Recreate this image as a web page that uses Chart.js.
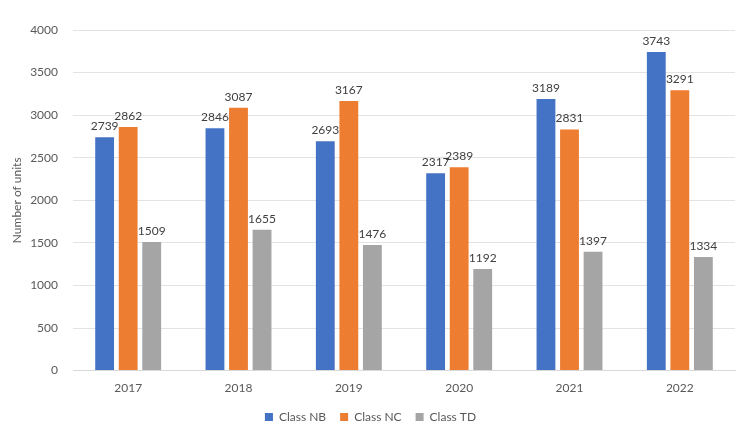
<!DOCTYPE html>
<html>
<head>
<meta charset="utf-8">
<script src="https://cdn.jsdelivr.net/npm/chart.js@4"></script>
<style>
  html, body { margin: 0; padding: 0; background: #fff; }
  #wrap { width: 743px; height: 439px; }
</style>
</head>
<body>
<div id="wrap"><canvas id="myChart" width="743" height="439"></canvas></div>
<script>
const years = ['2017', '2018', '2019', '2020', '2021', '2022'];
const classNB = [2739, 2846, 2693, 2317, 3189, 3743];
const classNC = [2862, 3087, 3167, 2389, 2831, 3291];
const classTD = [1509, 1655, 1476, 1192, 1397, 1334];
const yTicks = [0, 500, 1000, 1500, 2000, 2500, 3000, 3500, 4000];

const fontFamily = "Lato, 'Open Sans', sans-serif";

// draw the value above each bar
const valueLabels = {
  id: 'valueLabels',
  afterDatasetsDraw(chart) {
    const ctx = chart.ctx;
    ctx.save();
    ctx.font = '12px ' + fontFamily;
    ctx.fillStyle = '#404040';
    ctx.textAlign = 'center';
    ctx.textBaseline = 'bottom';
    chart.data.datasets.forEach((ds, i) => {
      chart.getDatasetMeta(i).data.forEach((bar, j) => {
        ctx.fillText(ds.data[j], bar.x, bar.y - 5);
      });
    });
    ctx.restore();
  }
};

const data = {
  labels: years,
  datasets: [
    { label: 'Class NB', data: classNB, backgroundColor: '#4472C4' },
    { label: 'Class NC', data: classNC, backgroundColor: '#ED7D31' },
    { label: 'Class TD', data: classTD, backgroundColor: '#A5A5A5' }
  ]
};

const config = {
  type: 'bar',
  data: data,
  plugins: [valueLabels],
  options: {
    responsive: false,
    animation: false,
    layout: { padding: { top: 30, right: 8, left: 6, bottom: 6 } },
    datasets: {
      bar: { categoryPercentage: 0.64, barPercentage: 0.8 }
    },
    scales: {
      x: {
        grid: { display: false },
        border: { color: '#d9d9d9' },
        ticks: { color: '#595959', padding: 2, font: { family: fontFamily, size: 12 } }
      },
      y: {
        min: 0,
        max: 4000,
        afterBuildTicks(axis) { axis.ticks = yTicks.map(v => ({ value: v })); },
        afterFit(axis) { axis.width = 67; },
        grid: { color: '#e3e3e3', drawTicks: false },
        border: { display: false },
        ticks: {
          color: '#595959',
          padding: 15,
          font: { family: fontFamily, size: 12 },
          callback: v => String(v)
        },
        title: {
          display: true,
          text: 'Number of units',
          color: '#595959',
          padding: { top: 4, bottom: 2 },
          font: { family: fontFamily, size: 12 }
        }
      }
    },
    plugins: {
      legend: {
        position: 'bottom',
        labels: {
          boxWidth: 8,
          boxHeight: 8,
          color: '#595959',
          padding: 14,
          font: { family: fontFamily, size: 12 }
        }
      },
      tooltip: { enabled: false }
    }
  }
};

let myChart = new Chart(document.getElementById('myChart'), config);
</script>
</body>
</html>
